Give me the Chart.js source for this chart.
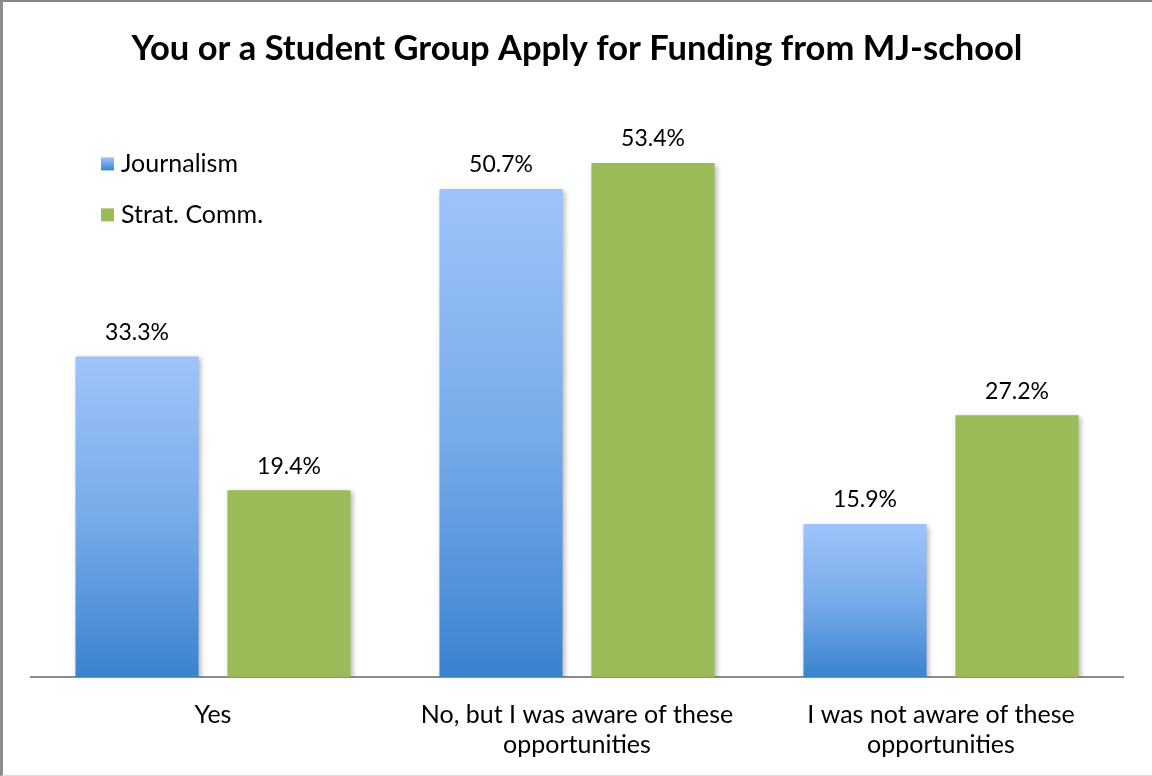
<!DOCTYPE html>
<html>
<head>
<meta charset="utf-8">
<script src="https://cdn.jsdelivr.net/npm/chart.js@4.4.1/dist/chart.umd.min.js"></script>
<style>
  html, body { margin: 0; padding: 0; background: #fff; }
  #frame {
    width: 1152px; height: 776px; box-sizing: border-box;
    border-top: 2px solid #878787; border-left: 3px solid #8c8c8c;
    border-bottom: 1px solid #d9d9d9;
  }
  #chart { display: block; }
</style>
</head>
<body>
<div id="frame"><canvas id="chart" width="1149" height="773"></canvas></div>
<script>
const categories = [
  'Yes',
  ['No, but I was aware of these', 'opportunities'],
  ['I was not aware of these', 'opportunities']
];
const journalism = [33.3, 50.7, 15.9];
const stratComm = [19.4, 53.4, 27.2];

const FONT = 'Lato, "Open Sans", sans-serif';
const GREEN = '#9BBB59';

// blue bars fade from light at the top to darker at the base
function blueGradient(ctx) {
  const chart = ctx.chart;
  if (!chart.chartArea || ctx.type !== 'data') return '#8DB8F2';
  const y = chart.scales.y;
  const top = y.getPixelForValue(ctx.raw);
  const base = y.getPixelForValue(0);
  const g = chart.ctx.createLinearGradient(0, top, 0, base);
  g.addColorStop(0, '#9EC4FB');
  g.addColorStop(0.5, '#78ABEA');
  g.addColorStop(1, '#3A83CF');
  return g;
}

const barShadow = {
  id: 'barShadow',
  beforeDatasetsDraw(chart) {
    const c = chart.ctx;
    c.save();
    c.shadowColor = 'rgba(0,0,0,0.28)';
    c.shadowBlur = 5;
    c.shadowOffsetX = 2;
    c.shadowOffsetY = 2;
  },
  afterDatasetsDraw(chart) {
    chart.ctx.restore();
  }
};

const valueLabels = {
  id: 'valueLabels',
  afterDatasetsDraw(chart) {
    const c = chart.ctx;
    c.save();
    c.font = '23px ' + FONT;
    c.fillStyle = '#000';
    c.textAlign = 'center';
    c.textBaseline = 'middle';
    chart.data.datasets.forEach((ds, i) => {
      chart.getDatasetMeta(i).data.forEach((bar, j) => {
        c.fillText(ds.data[j].toFixed(1) + '%', bar.x, bar.y - 24);
      });
    });
    c.restore();
  }
};

// legend sits inside the plot, top left
const insideLegend = {
  id: 'insideLegend',
  afterDraw(chart) {
    const c = chart.ctx;
    const area = chart.chartArea;
    const x = area.left + 70;
    let y = area.top + 64;
    c.save();
    c.font = '25px ' + FONT;
    c.textBaseline = 'middle';
    chart.data.datasets.forEach((ds) => {
      if (ds.label === 'Journalism') {
        const g = c.createLinearGradient(0, y - 6, 0, y + 7);
        g.addColorStop(0, '#9EC4FB');
        g.addColorStop(1, '#3A83CF');
        c.fillStyle = g;
      } else {
        c.fillStyle = ds.backgroundColor;
      }
      c.fillRect(x, y - 6, 13, 13);
      c.fillStyle = '#000';
      c.fillText(ds.label, x + 20, y + 1);
      y += 51;
    });
    c.restore();
  }
};

new Chart(document.getElementById('chart'), {
  type: 'bar',
  data: {
    labels: categories,
    datasets: [
      { label: 'Journalism', data: journalism, backgroundColor: blueGradient },
      { label: 'Strat. Comm.', data: stratComm, backgroundColor: GREEN }
    ]
  },
  options: {
    responsive: false,
    animation: false,
    categoryPercentage: 0.835,
    barPercentage: 0.81,
    layout: { padding: { left: 28, right: 29, top: 0, bottom: -8 } },
    scales: {
      x: {
        grid: { display: false, drawTicks: false },
        border: { display: true, color: '#8c8c8c', width: 2 },
        ticks: { color: '#000', padding: 23, font: { family: FONT, size: 25, lineHeight: 1.2 } }
      },
      y: { display: false, min: 0, max: 60 }
    },
    plugins: {
      legend: { display: false },
      tooltip: { enabled: false },
      title: {
        display: true,
        text: 'You or a Student Group Apply for Funding from MJ-school',
        color: '#000',
        font: { family: FONT, size: 34.5, weight: 'bold', lineHeight: 1.2 },
        padding: { top: 26, bottom: 30 }
      }
    }
  },
  plugins: [barShadow, valueLabels, insideLegend]
});
</script>
</body>
</html>
